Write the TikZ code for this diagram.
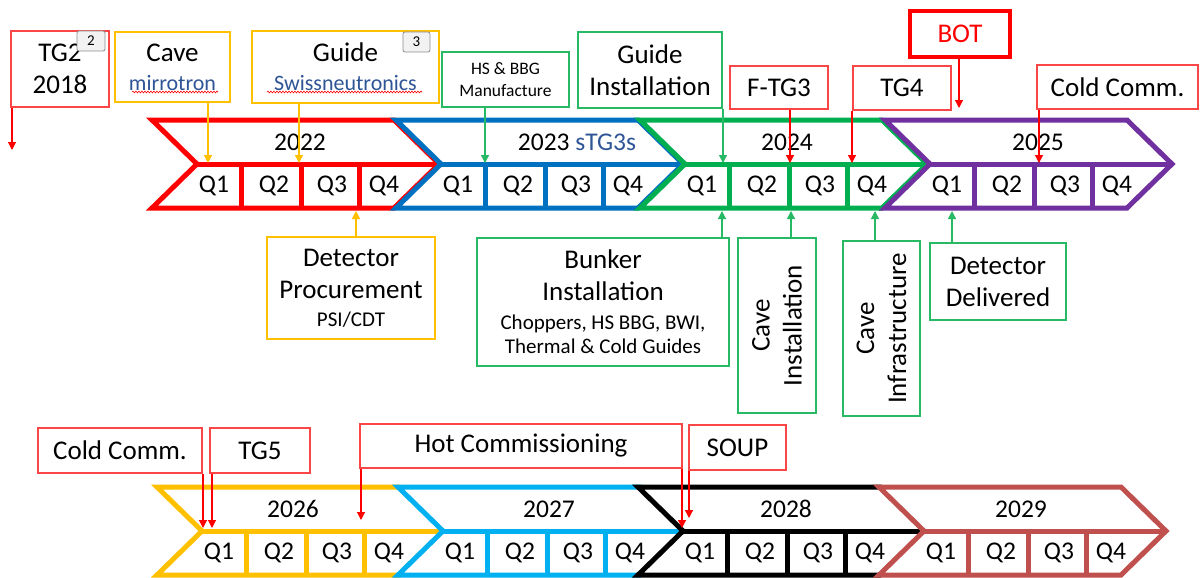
\documentclass[tikz,border=0pt]{standalone}
\usepackage{fontspec}
\setmainfont{Carlito}
\usetikzlibrary{arrows.meta,decorations.pathmorphing}
\definecolor{cRed}{RGB}{255,0,0}
\definecolor{cBoxRed}{RGB}{250,70,70}
\definecolor{cOrange}{RGB}{255,192,0}
\definecolor{cGreen}{RGB}{0,176,80}
\definecolor{cBoxGreen}{RGB}{40,185,100}
\definecolor{cBlue}{RGB}{0,112,192}
\definecolor{cPurple}{RGB}{112,48,160}
\definecolor{cLBlue}{RGB}{0,176,240}
\definecolor{cBrown}{RGB}{192,80,77}
\definecolor{cDBlue}{RGB}{47,85,151}
\definecolor{cBadge}{RGB}{140,140,140}
\definecolor{cBadgeFill}{RGB}{242,242,242}
\newcommand\fsz[1]{\fontsize{#1}{32}\selectfont}
\newcommand\chev[3]{% #1 start x, #2 top y, #3 colour
  \draw[yrshape,draw=#3] (#1,#2) -- ++(242,0) -- ++(45,44) -- ++(-45,44) -- ++(-242,0) -- ++(45,-44) -- cycle;
  \draw[yrline,draw=#3] (#1+45,#2+44) -- (#1+287,#2+44);
  \foreach \d in {89,149,207} {\draw[yrline,draw=#3] (#1+\d,#2+44) -- (#1+\d,#2+88);}
}
\newcommand\quarters[3]{% #1 start x, #2 top y, #3 id
  \foreach \q/\o in {1/62,2/122,3/180,4/232} {\node[qlbl] (#3q\q) at (#1+\o,#2+66) {Q\q};}
}
\begin{document}
\begin{tikzpicture}[x=1pt,y=-1pt,
  yrshape/.style={line width=5pt,line join=miter,fill=white},
  yrline/.style={line width=5pt},
  qlbl/.style={font=\fsz{25.5},inner sep=0pt},
  ylbl/.style={font=\fsz{25.5},inner sep=0pt},
  box/.style={draw,line width=1.2pt,fill=white,inner sep=0pt,align=center,font=\fsz{27}},
  txt/.style={inner sep=0pt,align=center,font=\fsz{27}},
  arr/.style={line width=1.2pt,-{Triangle[length=8pt,width=8pt]}},
  badge/.style={draw=cBadge,fill=cBadgeFill,line width=0.8pt,rounded corners=2pt,inner sep=0pt,font=\fontsize{15}{18}\selectfont},
  wavy/.style={draw=cRed,line width=0.6pt,decorate,decoration={snake,amplitude=0.9pt,segment length=3pt}}
]
\fill[white] (0,0) rectangle (1200,578);
\useasboundingbox (0,0) rectangle (1200,578);

% ---------- timeline chevrons ----------
\chev{152}{120}{cRed}
\chev{396}{120}{cBlue}
\chev{640}{120}{cGreen}
\chev{885}{120}{cPurple}
\chev{157}{487}{cOrange}
\chev{398}{487}{cLBlue}
\chev{638}{487}{black}
\chev{879}{487}{cBrown}

\quarters{152}{120}{a}
\quarters{396}{120}{b}
\quarters{640}{120}{c}
\quarters{885}{120}{d}
\quarters{157}{487}{e}
\quarters{398}{487}{f}
\quarters{638}{487}{g}
\quarters{879}{487}{h}

\node[ylbl] (y22) at (300,142) {2022};
\node[ylbl] (y23) at (577,142) {2023 \textcolor{cDBlue}{sTG3s}};
\node[ylbl] (y24) at (787,142) {2024};
\node[ylbl] (y25) at (1038,142) {2025};
\node[ylbl] (y26) at (293,509) {2026};
\node[ylbl] (y27) at (549,509) {2027};
\node[ylbl] (y28) at (786,509) {2028};
\node[ylbl] (y29) at (1021,509) {2029};

% ---------- top boxes ----------
\node[box,draw=cBoxRed,minimum width=98pt,minimum height=76pt] (tg2) at (60,69) {TG2\\2018};
\node[badge,minimum width=28pt,minimum height=20pt] (b2) at (91,41) {2};

\node[box,draw=cOrange,minimum width=115pt,minimum height=70pt] (cave) at (172.5,67) {Cave\\[-3pt]{\fsz{22}\color{cDBlue}mirrotron}};
\draw[wavy] (132,92) -- (218,92);

\node[box,draw=cOrange,minimum width=187pt,minimum height=72pt] (guides) at (345.5,67) {Guide\\[-3pt]{\fsz{22}\color{cDBlue}Swissneutronics}};
\draw[wavy] (267,92) -- (422,92);
\node[badge,minimum width=27pt,minimum height=20pt] (b3) at (416.5,42) {3};

\node[box,draw=cBoxGreen,minimum width=127pt,minimum height=55pt,font=\fontsize{17.5}{22}\selectfont] (hsbbg) at (505.5,79.5) {HS \& BBG\\Manufacture};
\node[box,draw=cBoxGreen,minimum width=144pt,minimum height=76pt] (ginst) at (650,70) {Guide\\Installation};
\node[box,draw=cBoxRed,minimum width=98pt,minimum height=43pt] (ftg3) at (779,87.5) {F-TG3};
\node[box,draw=cBoxRed,minimum width=98pt,minimum height=44pt] (tg4) at (902,88) {TG4};
\node[box,draw=cRed,line width=4pt,minimum width=100pt,minimum height=46pt,text=cRed] (bot) at (960,34) {BOT};
\node[box,draw=cBoxRed,minimum width=161pt,minimum height=44pt] (cc1) at (1117.5,87) {Cold Comm.};

% ---------- lower boxes (top row) ----------
\node[box,draw=cOrange,minimum width=168pt,minimum height=102pt] (dproc) at (351,288) {Detector\\Procurement\\[-4pt]{\fsz{21}PSI/CDT}};
\node[box,draw=cBoxGreen,minimum width=252pt,minimum height=128pt] (bunker) at (603,302) {Bunker\\Installation\\[-3pt]{\fsz{21}Choppers, HS BBG, BWI,}\\[-8pt]{\fsz{21}Thermal \& Cold Guides}};
\node[box,draw=cBoxGreen,minimum width=78pt,minimum height=175pt] (cinst) at (777,325.5) {};
\node[txt,rotate=90] (cinst-t) at (cinst.center) {Cave\\Installation};
\node[box,draw=cBoxGreen,minimum width=77pt,minimum height=175pt] (cinfra) at (881.5,328.5) {};
\node[txt,rotate=90] (cinfra-t) at (cinfra.center) {Cave\\Infrastructure};
\node[box,draw=cBoxGreen,minimum width=136pt,minimum height=77pt] (ddel) at (998,281.5) {Detector\\Delivered};

% ---------- bottom boxes ----------
\node[box,draw=cBoxRed,minimum width=164pt,minimum height=45pt] (cc2) at (120,450.5) {Cold Comm.};
\node[box,draw=cBoxRed,minimum width=100pt,minimum height=45pt] (tg5) at (260,450.5) {TG5};
\node[box,draw=cBoxRed,minimum width=322pt,minimum height=44pt] (hotc) at (521,446) {Hot Commissioning};
\node[box,draw=cBoxRed,minimum width=97pt,minimum height=45pt] (soup) at (737.5,447.5) {SOUP};

% ---------- arrow targets ----------
\coordinate (t-tg2) at (12,150);
\coordinate (t-cave) at (208,163);
\coordinate (t-guides) at (299,163);
\coordinate (t-dproc) at (356,211);
\coordinate (t-hsbbg) at (485,163);
\coordinate (t-ginst) at (723,163);
\coordinate (t-ftg3) at (790,163);
\coordinate (t-tg4) at (852,163);
\coordinate (t-bot) at (959,108);
\coordinate (t-cc1) at (1039,163);
\coordinate (t-bunker) at (722,211);
\coordinate (t-cinst) at (791,211);
\coordinate (t-cinfra) at (875,211);
\coordinate (t-ddel) at (952,211);
\coordinate (t-cc2) at (203,528);
\coordinate (t-tg5) at (212,528);
\coordinate (t-hotc1) at (361,520);
\coordinate (t-hotc2) at (682,528);
\coordinate (t-soup) at (689,518);

% ---------- arrows ----------
\draw[arr,cRed] (tg2.south -| t-tg2) -- (t-tg2);
\draw[arr,cOrange] (cave.south -| t-cave) -- (t-cave);
\draw[arr,cOrange] (guides.south -| t-guides) -- (t-guides);
\draw[arr,cOrange] (dproc.north -| t-dproc) -- (t-dproc);
\draw[arr,cBoxGreen] (hsbbg.south -| t-hsbbg) -- (t-hsbbg);
\draw[arr,cBoxGreen] (ginst.south -| t-ginst) -- (t-ginst);
\draw[arr,cRed] (ftg3.south -| t-ftg3) -- (t-ftg3);
\draw[arr,cRed] (tg4.south -| t-tg4) -- (t-tg4);
\draw[arr,cRed] (bot.south -| t-bot) -- (t-bot);
\draw[arr,cRed] (cc1.south -| t-cc1) -- (t-cc1);
\draw[arr,cBoxGreen] (bunker.north -| t-bunker) -- (t-bunker);
\draw[arr,cBoxGreen] (cinst.north -| t-cinst) -- (t-cinst);
\draw[arr,cBoxGreen] (cinfra.north -| t-cinfra) -- (t-cinfra);
\draw[arr,cBoxGreen] (ddel.north -| t-ddel) -- (t-ddel);
\draw[arr,cRed] (cc2.south -| t-cc2) -- (t-cc2);
\draw[arr,cRed] (tg5.south -| t-tg5) -- (t-tg5);
\draw[arr,cRed] (hotc.south -| t-hotc1) -- (t-hotc1);
\draw[arr,cRed] (hotc.south -| t-hotc2) -- (t-hotc2);
\draw[arr,cRed] (soup.south -| t-soup) -- (t-soup);
\end{tikzpicture}
\end{document}
